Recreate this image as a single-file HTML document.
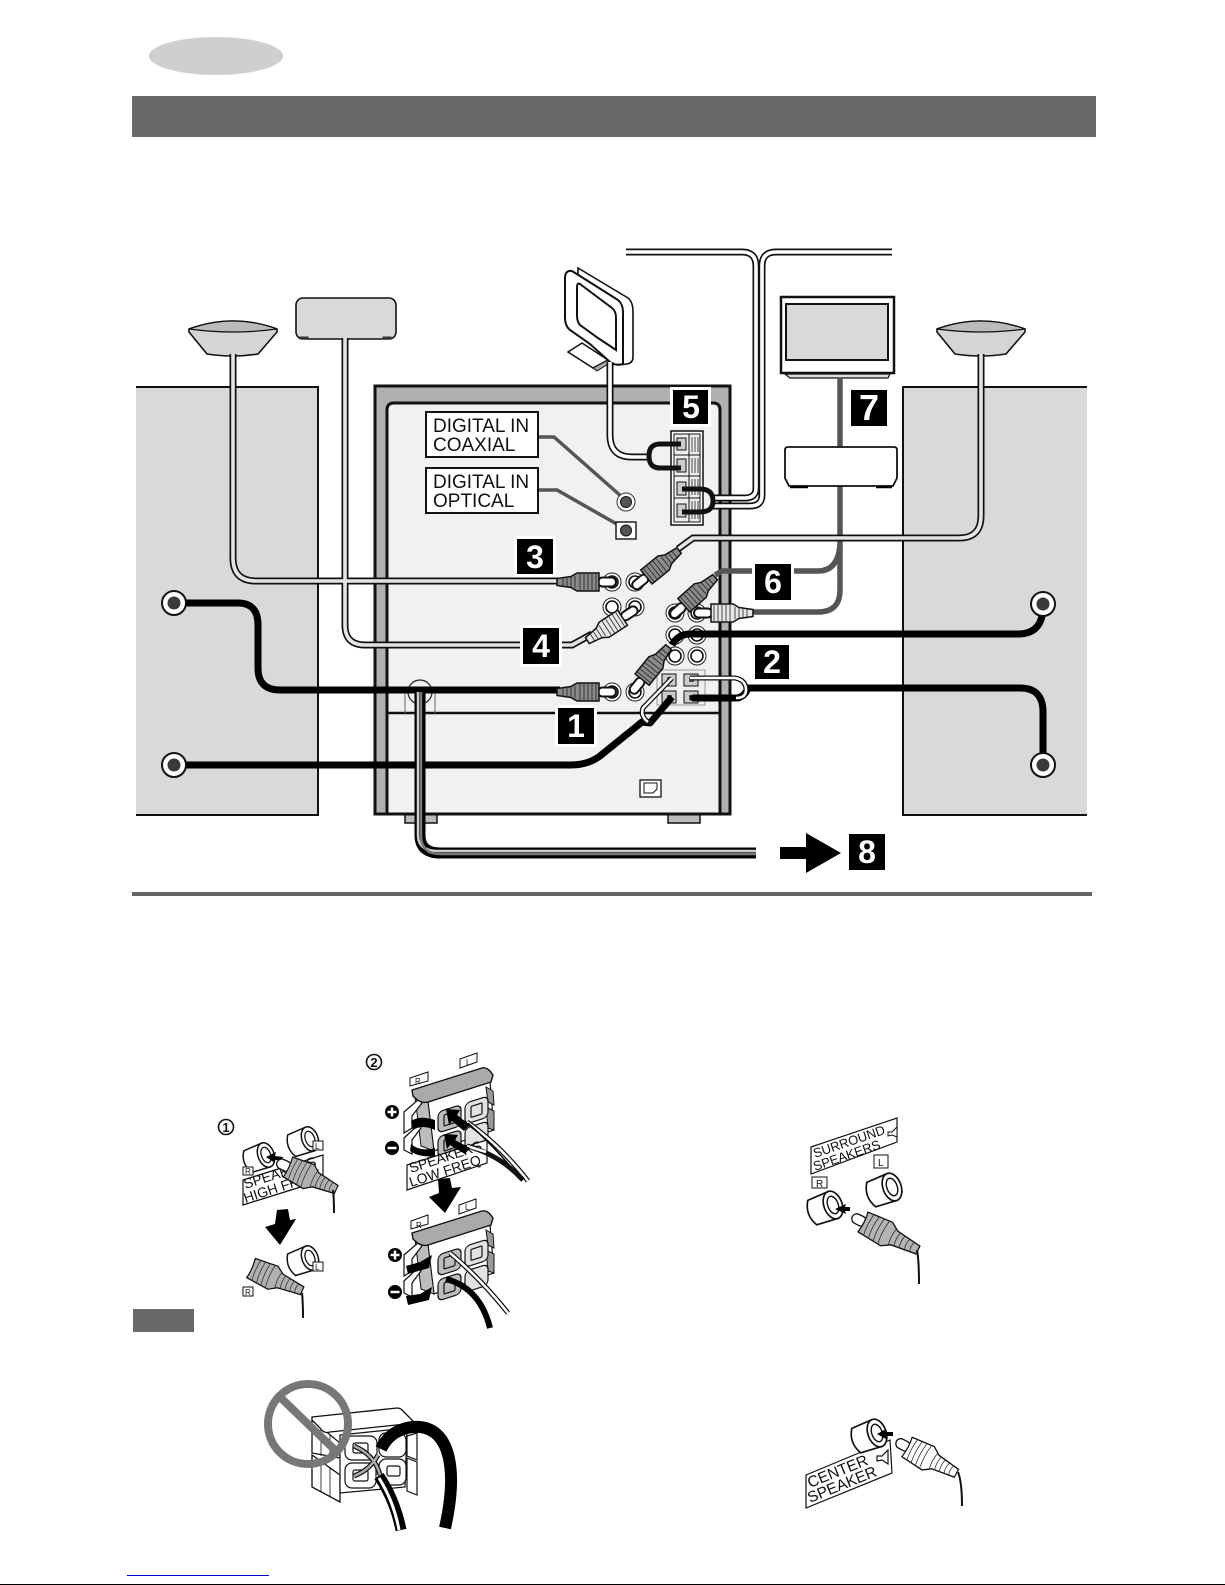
<!DOCTYPE html>
<html><head><meta charset="utf-8"><style>
html,body{margin:0;padding:0;background:#fff}
svg{display:block}
text{font-family:"Liberation Sans",sans-serif;fill:#111}
.b{font-weight:bold;fill:#fff;font-size:32px;text-anchor:middle}
.w{fill:none;stroke-linejoin:round;stroke-linecap:butt}
</style></head><body>
<svg width="1225" height="1585" viewBox="0 0 1225 1585" xmlns="http://www.w3.org/2000/svg">
<defs>
<g id="ring"><circle r="9" fill="#fff" stroke="#222" stroke-width="1"/><circle r="6" fill="#fff" stroke="#111" stroke-width="1.6"/></g>
<g id="ribs" stroke="#222" stroke-width=".8" fill="none">
<path d="M-19,-8V8M-23,-8V8M-27,-8V8M-31,-8V8M-35,-8V8M-40,-6V6M-44,-5V5M-48,-4V4M-52,-4V4"/></g>
<g id="plugD"><rect x="-17" y="-4.5" width="18" height="9" rx="4.5" fill="#fff" stroke="#111" stroke-width="2"/>
<path d="M-16,-9L-38,-9L-44,-5.5L-58,-3.5L-58,3.5L-44,5.5L-38,9L-16,9Z" fill="#8a8a8a" stroke="#111" stroke-width="1.5"/><use href="#ribs"/></g>
<g id="plugL"><rect x="-17" y="-4.5" width="18" height="9" rx="4.5" fill="#fff" stroke="#111" stroke-width="2"/>
<path d="M-16,-9L-38,-9L-44,-5.5L-58,-3.5L-58,3.5L-44,5.5L-38,9L-16,9Z" fill="#e8e8e8" stroke="#111" stroke-width="1.5"/><use href="#ribs"/></g>
<g id="bigBody"><path d="M0,-10Q-2,0 0,10L-24,12L-32,7L-56,4L-56,-4L-32,-7L-24,-12Z" stroke="#111" stroke-width="1.2"/>
<path d="M-6,-11Q-4,0 -6,11M-11,-11Q-9,0 -11,11M-16,-11Q-14,0 -16,11M-21,-11Q-19,0 -21,11M-30,-8Q-28,0 -30,8M-35,-6.500Q-33,0 -35,6.500M-40,-6Q-38,0 -40,6M-45,-5Q-43,0 -45,5M-50,-4.500Q-48,0 -50,4.500" fill="none" stroke="#333" stroke-width=".8"/></g>
<g id="bigPin"><rect x="-3" y="-5" width="15" height="10" rx="5" fill="#fff" stroke="#111" stroke-width="1.3"/></g>
<g id="jack"><path d="M-17,-10L0,-11L0,11L-17,10Q-23,0 -17,-10Z" fill="#fff" stroke="#111" stroke-width="1.3"/><ellipse rx="7" ry="11" fill="#fff" stroke="#111" stroke-width="1.3"/><ellipse rx="4" ry="7" fill="#fff" stroke="#111" stroke-width="1.1"/></g>
<g id="tb">
<path d="M428,1102L490,1082L494,1130L434,1151Z" fill="#fff" stroke="#111" stroke-width="1.2"/>
<path d="M415,1096L428,1102L434,1151L421,1146Z" fill="#bdbdbd" stroke="#111" stroke-width="1"/>
<path d="M404,1112L419,1099L422,1103L412,1116L412,1128L404,1133Z M404,1138L419,1124L421,1128L412,1140L412,1154L404,1150Z" fill="#fff" stroke="#111" stroke-width="1.2"/>
<path d="M486,1087L493,1091L494,1105L488,1102Z M486,1107L494,1111L494,1130L488,1128Z" fill="#999" stroke="#111" stroke-width="1"/>
<g transform="matrix(1,-.32,0,1,438,1112)" fill="none" stroke="#111" stroke-width="1.2"><rect width="23" height="21" rx="5" fill="#bdbdbd"/><rect x="6" y="5" width="11" height="11" rx="1"/><rect x="27" width="23" height="21" rx="5" fill="#e2e2e2"/><rect x="33" y="5" width="11" height="11" rx="1"/><rect y="25" width="23" height="21" rx="5" fill="#bdbdbd"/><rect x="6" y="30" width="11" height="11" rx="1"/><rect x="27" y="25" width="23" height="21" rx="5" fill="#e2e2e2"/></g>
<path d="M412,1090L482,1068Q486,1067 490,1071L493,1075L491,1082L428,1102Q420,1104 413,1096Z" fill="#aaa" stroke="#111" stroke-width="1.4"/>
</g>
</defs>

<!-- header -->
<ellipse cx="216" cy="56" rx="67" ry="19" fill="#cfcfcf"/>
<rect x="132" y="96" width="964" height="41" fill="#686868"/>

<!-- side panels -->
<path d="M136,387H318V815H136Z" fill="#d9d9d9"/>
<path d="M136,387H318V815H136" fill="none" stroke="#111" stroke-width="2"/>
<path d="M1087,387H903V815H1087Z" fill="#d9d9d9"/>
<path d="M1087,387H903V815H1087" fill="none" stroke="#111" stroke-width="2"/>

<!-- unit -->
<rect x="405" y="814" width="32" height="9" fill="#bbb" stroke="#111" stroke-width="1.5"/>
<rect x="668" y="814" width="32" height="9" fill="#bbb" stroke="#111" stroke-width="1.5"/>
<rect x="375" y="386" width="355" height="428" fill="#b0b0b0" stroke="#111" stroke-width="3"/>
<path d="M387,814V410Q387,403 394,403H713Q720,403 720,410V814Z" fill="#f1f1f1" stroke="#111" stroke-width="3"/>
<path d="M388,713H719" stroke="#111" stroke-width="2.5"/>
<rect x="640" y="780" width="21" height="17" fill="#fff" stroke="#111" stroke-width="1.3"/>
<path d="M644,783H657V789L653,793H644Z" fill="none" stroke="#111"/>

<!-- speakers -->
<path d="M189,329Q233,313 277,329L277,332L258,354Q233,358 207,354L189,332Z" fill="#d5d5d5" stroke="#111" stroke-width="1.6"/>
<path d="M189,329Q233,313 277,329Q233,335 189,329Z" fill="#bbb" stroke="#111" stroke-width="1.2"/>
<path d="M937,329Q981,313 1025,329L1025,332L1006,354Q981,358 955,354L937,332Z" fill="#d5d5d5" stroke="#111" stroke-width="1.6"/>
<path d="M937,329Q981,313 1025,329Q981,335 937,329Z" fill="#bbb" stroke="#111" stroke-width="1.2"/>
<rect x="296" y="298" width="100" height="41" rx="7" fill="#d9d9d9" stroke="#111" stroke-width="1.6"/>
<path d="M300,337H308V339H300ZM383,337H391V339H383Z" fill="#333" stroke="#333"/>
<!-- TV -->
<path d="M785,374H890L888,378H790Z" fill="#ddd" stroke="#111" stroke-width="1.2"/>
<rect x="781" y="297" width="113" height="76" fill="#fff" stroke="#111" stroke-width="2.5"/>
<rect x="786" y="304" width="102" height="56" fill="#d9d9d9" stroke="#111" stroke-width="2"/>

<!-- loop antenna -->
<path d="M568,352L582,343L608,360L593,368Z" fill="#fff" stroke="#111" stroke-width="1.5"/>
<path d="M593,368L608,360V364L597,371Z" fill="#aaa" stroke="#111"/>
<path d="M578,268L628,298Q633,302 633,312V357Q633,363 627,364L618,365L612,362V318L578,274Z" fill="#fff" stroke="#111" stroke-width="1.6"/>
<path d="M572,271L618,300Q623,304 623,312V364Q615,366 610,362L590,344L570,330Q565,326 565,318V278Q565,270 572,271Z" fill="#fff" stroke="#111" stroke-width="2"/>
<path d="M580,284L612,308Q616,311 616,318V350L598,338L580,325Q577,322 577,315V288Q577,282 580,284Z" fill="#fff" stroke="#111" stroke-width="2"/>

<!-- gray wires TV -->
<g class="w" stroke="#555" stroke-width="5.5">
<path d="M840,378V590Q840,612 818,612H750"/>
<path d="M790,571H818Q838,571 840,545"/>
<path d="M715,575L722,571H756"/>
</g>
<path d="M785,450Q785,447 788,447H894Q897,447 897,450V478L893,486H789L785,478Z" fill="#fff" stroke="#111" stroke-width="1.8"/>
<path d="M790,487H808M876,487H892" stroke="#000" stroke-width="2.500"/>

<!-- light wires -->
<g class="w" stroke="#111" stroke-width="7">
<path d="M233,354V558Q233,581 256,581H560"/>
<path d="M345,338V625Q345,645 365,645H572L592,634"/>
<path d="M981,354V516Q981,538 959,538H693L678,549"/>
<path d="M610,362V435Q610,457 632,457H650"/>
<path d="M626,252H742Q756,252 756,266V488Q756,498 745,498H712"/>
<path d="M892,252H776Q762,252 762,266V495Q762,506 750,506H712"/>
</g>
<g class="w" stroke="#e4e4e4" stroke-width="3.6">
<path d="M233,354V558Q233,581 256,581H560"/>
<path d="M345,338V625Q345,645 365,645H572L592,634"/>
<path d="M981,354V516Q981,538 959,538H693L678,549"/>
</g>
<g class="w" stroke="#fff" stroke-width="3.6">
<path d="M610,362V435Q610,457 632,457H650"/>
<path d="M626,252H742Q756,252 756,266V488Q756,498 745,498H712"/>
<path d="M892,252H776Q762,252 762,266V495Q762,506 750,506H712"/>
</g>

<!-- digital labels -->
<g fill="none" stroke="#555" stroke-width="3.5"><path d="M538,437H554L622,497"/><path d="M538,490H557L622,527"/></g>
<rect x="426" y="412" width="112" height="45" fill="#fff" stroke="#111" stroke-width="2"/>
<rect x="426" y="468" width="112" height="45" fill="#fff" stroke="#111" stroke-width="2"/>
<text x="433" y="432" font-size="19">DIGITAL IN</text><text x="433" y="451" font-size="19">COAXIAL</text>
<text x="433" y="488" font-size="19">DIGITAL IN</text><text x="433" y="507" font-size="19">OPTICAL</text>
<circle cx="626" cy="502" r="9" fill="#fff" stroke="#333"/><circle cx="626" cy="502" r="5.500" fill="#555" stroke="#111"/>
<rect x="616" y="522" width="20" height="17" fill="#fff" stroke="#111" stroke-width="1.4"/><circle cx="626" cy="530.500" r="5.500" fill="#555" stroke="#111"/>

<!-- antenna terminal -->
<rect x="671" y="431" width="32" height="94" fill="#fff" stroke="#111" stroke-width="1.5"/>
<rect x="674" y="434" width="26" height="88" fill="#eee" stroke="#111"/>
<path d="M689,434V522M674,455H689M674,476H689M674,498H689M689,455H700M689,476H700M689,498H700" stroke="#111"/>
<path d="M692,437V452M695,437V452M698,437V452M692,458V473M695,458V473M698,458V473M692,479V495M695,479V495M698,479V495M692,501V519M695,501V519M698,501V519" stroke="#444"/>
<path d="M677,438H686V450H677ZM677,459H686V472H677ZM677,482H686V495H677ZM677,504H686V517H677Z" fill="#ccc" stroke="#111"/>
<g class="w" stroke="#111" stroke-width="5">
<path d="M681,444H660Q649,444 649,456Q649,468 660,468H681"/>
<path d="M682,489H700Q713,489 713,501Q713,512 700,512H682"/>
</g>

<!-- jacks -->
<use href="#ring" x="612" y="582"/><use href="#ring" x="635" y="582"/>
<use href="#ring" x="612" y="607"/><use href="#ring" x="635" y="607"/>
<use href="#ring" x="675" y="613"/><use href="#ring" x="697" y="613"/>
<use href="#ring" x="675" y="635"/><use href="#ring" x="697" y="635"/>
<use href="#ring" x="675" y="656"/><use href="#ring" x="697" y="656"/>
<use href="#ring" x="612" y="692"/><use href="#ring" x="635" y="692"/>

<!-- speaker terminals on unit -->
<rect x="657" y="670" width="48" height="35" fill="#eee" stroke="#999"/>
<g fill="#ccc" stroke="#111"><rect x="662" y="674" width="14" height="12"/><rect x="662" y="691" width="14" height="12"/><rect x="684" y="674" width="14" height="12"/><rect x="684" y="691" width="14" height="12"/></g>
<g fill="#555"><rect x="667" y="677" width="5" height="5"/><rect x="667" y="695" width="5" height="5"/><rect x="689" y="677" width="5" height="5"/><rect x="689" y="695" width="5" height="5"/></g>

<!-- socket -->
<circle cx="420" cy="692" r="12" fill="#eee" stroke="#222" stroke-width="1.2"/>
<path d="M405,713V692M435,713V692" stroke="#666" stroke-width="1"/>

<!-- black wires -->
<g class="w" stroke="#000" stroke-width="7">
<path d="M174,603H238Q258,603 258,625V668Q258,690 280,690H560"/>
<path d="M174,765H570Q588,765 600,756L642,722L650,723L672,697"/>
<path d="M672,645Q678,634 690,634H1018Q1043,634 1043,606"/>
<path d="M692,698H738Q745,696 748,688H1020Q1043,688 1043,712V765"/>
</g>
<path class="w" d="M672,678L643,708Q640,716 648,722L652,722" stroke="#111" stroke-width="5"/>
<path class="w" d="M672,678L643,708Q640,716 648,722" stroke="#fff" stroke-width="2.500"/>
<path class="w" d="M690,678H735Q746,680 746,690Q746,698 736,698" stroke="#111" stroke-width="5"/>
<path class="w" d="M690,678H735Q746,680 746,690Q746,698 736,698" stroke="#fff" stroke-width="2.500"/>
<path d="M690,698H736" stroke="#000" stroke-width="5"/>
<!-- left/right end jacks -->
<g fill="#fff" stroke="#111" stroke-width="2"><circle cx="174" cy="603" r="12"/><circle cx="174" cy="765" r="12"/><circle cx="1043" cy="604" r="12"/><circle cx="1043" cy="765" r="12"/></g>
<g fill="#3a3a3a"><circle cx="174" cy="603" r="6.500"/><circle cx="174" cy="765" r="6.500"/><circle cx="1043" cy="604" r="6.500"/><circle cx="1043" cy="765" r="6.500"/></g>

<!-- plugs -->
<use href="#plugD" transform="translate(615,582)"/>
<use href="#plugD" transform="translate(615,692)"/>
<use href="#plugD" transform="translate(634,587) rotate(141)"/>
<use href="#plugD" transform="translate(672,616) rotate(138)"/>
<use href="#plugD" transform="translate(632,692) rotate(129)"/>
<use href="#plugL" transform="translate(636,609) rotate(-33)"/>
<use href="#plugL" transform="translate(695,613) rotate(180)"/>

<!-- power cord -->
<path class="w" d="M420,692V835Q420,853 440,853H756" stroke="#000" stroke-width="11"/>
<path class="w" d="M418,692V835Q418,851 438,851H756" stroke="#ccc" stroke-width="2.500"/>
<path class="w" d="M421,692V835Q421,854 440,854H756" stroke="#777" stroke-width="2.500"/>
<path d="M780,847H806V833L841,853L806,873V859H780Z" fill="#000"/>

<!-- badges -->
<g fill="#fff"><rect x="670" y="387" width="41" height="40"/><rect x="514" y="536" width="42" height="41"/><rect x="520" y="625" width="42" height="42"/><rect x="555" y="705" width="42" height="42"/><rect x="752" y="561" width="42" height="42"/><rect x="752" y="642" width="40" height="40"/></g>
<g fill="#000"><rect x="673" y="390" width="35" height="34"/><rect x="517" y="539" width="36" height="35"/><rect x="523" y="628" width="36" height="36"/><rect x="558" y="708" width="36" height="36"/><rect x="755" y="564" width="36" height="36"/><rect x="755" y="645" width="34" height="34"/><rect x="851" y="390" width="36" height="36"/><rect x="849" y="834" width="36" height="36"/></g>
<text class="b" x="691" y="418">5</text><text class="b" x="535" y="568">3</text><text class="b" x="541" y="657">4</text><text class="b" x="576" y="737">1</text><text class="b" x="773" y="593">6</text><text class="b" x="772" y="673">2</text><text class="b" x="869" y="420" style="font-size:36px">7</text><text class="b" x="867" y="863">8</text>

<!-- divider -->
<rect x="132" y="892" width="960" height="4" fill="#666"/>

<!-- step numbers -->
<circle cx="226" cy="1127" r="7.500" fill="#fff" stroke="#111" stroke-width="1.6"/><text x="226" y="1132" font-size="13" font-weight="bold" text-anchor="middle">1</text>
<circle cx="374" cy="1062" r="7.500" fill="#fff" stroke="#111" stroke-width="1.6"/><text x="374" y="1067" font-size="13" font-weight="bold" text-anchor="middle">2</text>

<!-- step 1 -->
<path d="M243,1180L323,1155V1180L243,1205Z" fill="#fff" stroke="#111" stroke-width="1.2"/>
<text transform="translate(245.500,1189) rotate(-18)" font-size="14">SPEAKERS</text>
<text transform="translate(245.500,1203) rotate(-18)" font-size="14">HIGH FREQ</text>
<path d="M318,1170L312,1175L318,1180Z" fill="none" stroke="#111"/>
<use href="#jack" transform="translate(266,1155) rotate(-20) scale(1.15)"/>
<use href="#jack" transform="translate(310,1139) rotate(-20) scale(1.15)"/>
<rect x="243" y="1167" width="10" height="8" fill="#fff" stroke="#111"/><text x="245" y="1174" font-size="8">R</text>
<rect x="313" y="1141" width="10" height="9" fill="#fff" stroke="#111"/><text x="315" y="1149" font-size="8">L</text>
<path d="M266,1157L276,1152L275,1156L283,1157L282,1160L275,1160L275,1163Z" fill="#000"/>
<g transform="translate(288,1167) rotate(205)"><use href="#bigPin"/><use href="#bigBody" fill="#b0b0b0" transform="scale(.95,1.1)"/></g>
<path class="w" d="M333,1190Q334,1198 334,1213" stroke="#111" stroke-width="2"/>
<path d="M277,1210L288,1209L290,1220L296,1219L280,1245L265,1227L275,1224Z" fill="#000"/>
<use href="#jack" transform="translate(310,1258) rotate(-20) scale(1.15)"/>
<rect x="313" y="1262" width="10" height="9" fill="#fff" stroke="#111"/><text x="315" y="1270" font-size="8">L</text>
<rect x="243" y="1287" width="10" height="9" fill="#fff" stroke="#111"/><text x="245" y="1295" font-size="8">R</text>
<use href="#bigBody" fill="#b0b0b0" transform="translate(251,1268) rotate(204) scale(1,1.05)"/>
<path class="w" d="M302,1293Q303,1302 303,1318" stroke="#111" stroke-width="2"/>
<rect x="133" y="1309" width="61" height="23" fill="#686868"/>

<!-- step 2 top -->
<use href="#tb"/>
<path d="M407,1165L487,1140V1163L407,1190Z" fill="#fff" stroke="#111" stroke-width="1.2"/>
<text transform="translate(411,1173) rotate(-18)" font-size="14">SPEAKERS</text>
<text transform="translate(411,1187) rotate(-18)" font-size="14">LOW FREQ</text>
<path class="w" d="M467,1122Q500,1145 528,1181" stroke="#111" stroke-width="5"/><path class="w" d="M467,1122Q500,1145 528,1181" stroke="#fff" stroke-width="2.500"/>
<path class="w" d="M468,1123Q498,1150 518,1176" stroke="#000" stroke-width="1.5"/>
<path class="w" d="M467,1146Q500,1155 523,1180" stroke="#111" stroke-width="5"/>
<path class="w" d="M467,1146L486,1152" stroke="#fff" stroke-width="2.500"/>
<path d="M446,1109L460,1110L457,1115L470,1125L464,1131L452,1121L449,1125Z M444,1134L458,1135L455,1140L470,1148L465,1154L450,1145L447,1149Z" fill="#000"/>
<path d="M411,1121Q420,1115 435,1120L435,1130Q422,1124 413,1130Z M411,1144Q420,1152 435,1148L435,1156Q420,1158 410,1151Z" fill="#000"/>
<circle cx="392" cy="1112" r="7" fill="#000"/><path d="M387.500,1112H396.500M392,1107.500V1116.500" stroke="#fff" stroke-width="2.500"/>
<circle cx="392" cy="1148" r="7" fill="#000"/><path d="M387.500,1148H396.500" stroke="#fff" stroke-width="2.500"/>
<path d="M410,1078L428,1072V1081L410,1086Z M460,1059L477,1053V1062L460,1068Z" fill="#fff" stroke="#111"/><text x="415" y="1084" font-size="8">R</text><text x="466" y="1065" font-size="8">L</text>
<path d="M438,1179L450,1178L452,1188L461,1187L445,1213L429,1197L439,1193Z" fill="#000"/>

<!-- step 2 bottom -->
<use href="#tb" transform="translate(0,143)"/>
<path d="M411,1221L428,1215V1224L411,1229Z M459,1205L476,1199V1208L459,1214Z" fill="#fff" stroke="#111"/><text x="416" y="1228" font-size="8">R</text><text x="465" y="1210" font-size="8">L</text>
<path class="w" d="M450,1253Q480,1278 508,1313" stroke="#111" stroke-width="5"/><path class="w" d="M450,1253Q480,1278 508,1313" stroke="#fff" stroke-width="2.500"/>
<path class="w" d="M446,1279Q480,1288 490,1328" stroke="#000" stroke-width="6"/>
<path d="M406,1266L420,1262L432,1255L429,1268L408,1274Z M406,1296L420,1294L432,1287L429,1300L408,1305Z" fill="#000"/>
<circle cx="395" cy="1255" r="7" fill="#000"/><path d="M390.500,1255H399.500M395,1250.500V1259.500" stroke="#fff" stroke-width="2.500"/>
<circle cx="395" cy="1292" r="7" fill="#000"/><path d="M390.500,1292H399.500" stroke="#fff" stroke-width="2.500"/>

<!-- no-symbol block -->
<path d="M312,1420L340,1443V1458L312,1453Z M312,1455L340,1475V1502L312,1487Z" fill="#fff" stroke="#111" stroke-width="1.3"/>
<path d="M321,1427V1456M330,1435V1458M321,1462V1492M330,1468V1497" stroke="#111" stroke-width=".8"/>
<path d="M340,1435L407,1428L405,1487L340,1493Z" fill="#fff" stroke="#111" stroke-width="1.2"/>
<path d="M407,1436L417,1433V1460L407,1456Z M407,1458L417,1462V1495L407,1491Z" fill="#fff" stroke="#111" stroke-width="1.2"/>
<g fill="#fff" stroke="#111" stroke-width="1.2"><rect x="345" y="1436" width="32" height="24" rx="7"/><rect x="379" y="1433" width="27" height="24" rx="7"/><rect x="345" y="1463" width="31" height="25" rx="7"/><rect x="379" y="1459" width="27" height="26" rx="7"/><rect x="353" y="1443" width="15" height="10" rx="2"/><rect x="353" y="1470" width="15" height="11" rx="2"/><rect x="387" y="1466" width="13" height="10" rx="2"/></g>
<path d="M312,1417L397,1408Q400,1408 402,1410L415,1423L330,1432Q324,1434 320,1428L312,1420Z" fill="#fff" stroke="#111" stroke-width="1.3"/>
<path class="w" d="M354,1446Q375,1455 380,1475M354,1476Q370,1470 378,1455" stroke="#111" stroke-width="5"/>
<path class="w" d="M354,1446Q375,1455 380,1475M354,1476Q370,1470 378,1455" stroke="#aaa" stroke-width="2.500"/>
<circle cx="308" cy="1424" r="40" fill="none" stroke="#777" stroke-width="8"/>
<path d="M280,1397L338,1453" stroke="#777" stroke-width="8"/>
<path class="w" d="M381,1449C390,1430 408,1426 420,1427C450,1430 458,1470 445,1528" stroke="#000" stroke-width="12"/>
<path class="w" d="M379,1476Q395,1500 401,1530" stroke="#000" stroke-width="11"/>
<path class="w" d="M379,1478Q394,1502 399,1530" stroke="#fff" stroke-width="3"/>

<!-- surround -->
<path d="M811,1147L897,1118V1142L811,1174Z" fill="#fff" stroke="#111" stroke-width="1.2"/>
<text transform="translate(815,1158) rotate(-19)" font-size="13">SURROUND</text>
<text transform="translate(815,1171) rotate(-19)" font-size="13">SPEAKERS</text>
<path d="M888,1132L892,1132L897,1127V1137L892,1135L888,1136Z" fill="#fff" stroke="#111"/>
<rect x="812" y="1177" width="15" height="11" fill="#fff" stroke="#111"/><text x="816" y="1187" font-size="10">R</text>
<rect x="874" y="1155" width="14" height="13" fill="#fff" stroke="#111"/><text x="878" y="1166" font-size="10">L</text>
<use href="#jack" transform="translate(833,1205) rotate(-20) scale(1.3)"/>
<use href="#jack" transform="translate(892,1187) rotate(-20) scale(1.3)"/>
<path d="M835,1209L846,1204L845,1207L850,1207L850,1211L845,1211L846,1214Z" fill="#000"/>
<g transform="translate(863,1222) rotate(207)"><use href="#bigPin"/><use href="#bigBody" fill="#b5b5b5" transform="scale(1.1)"/></g>
<path class="w" d="M917,1250Q919,1260 919,1284" stroke="#111" stroke-width="2"/>

<!-- center -->
<path d="M806,1475L890,1440L892,1473L806,1508Z" fill="#fff" stroke="#111" stroke-width="1.2"/>
<text transform="translate(810,1488) rotate(-22)" font-size="15.500">CENTER</text>
<text transform="translate(810,1503) rotate(-22)" font-size="15.500">SPEAKER</text>
<path d="M877,1456L882,1456L888,1450V1464L882,1460L877,1461Z" fill="#fff" stroke="#111" stroke-width="1.2"/>
<path d="M864,1440V1452" stroke="#111"/>
<use href="#jack" transform="translate(877,1433) rotate(-20) scale(1.3)"/>
<path d="M877,1434L886,1429L886,1432L893,1432L893,1436L886,1436L886,1439Z" fill="#000"/>
<g transform="translate(907,1447) rotate(208)"><use href="#bigPin"/><use href="#bigBody" fill="#fff" transform="scale(1,1.1)"/></g>
<path class="w" d="M958,1472Q962,1482 962,1506" stroke="#111" stroke-width="2"/>

<!-- footer -->
<rect x="127" y="1575" width="142" height="1" fill="#0000cc"/>
<rect x="0" y="1584" width="1225" height="1" fill="#000"/>
</svg>
</body></html>
